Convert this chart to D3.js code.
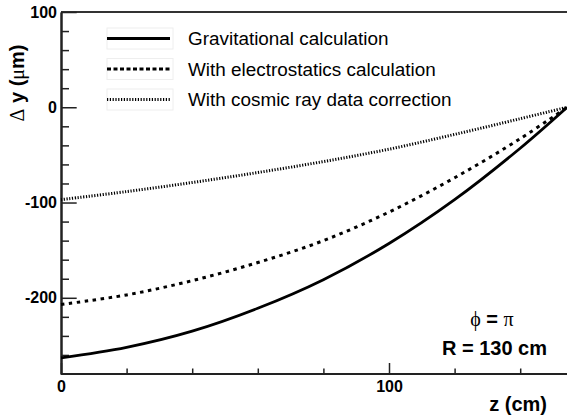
<!DOCTYPE html>
<html><head><meta charset="utf-8">
<script src="https://cdn.jsdelivr.net/npm/d3@7"></script>
<style>body{margin:0;background:#fff}svg{display:block}</style>
</head><body>
<svg id="c" width="567" height="417"></svg>
<script>
// ---- data ----
const zValues        = [0, 20, 40, 60, 80, 100, 120, 140, 154.3];
const gravitational  = [-263, -252, -235, -211, -181, -143, -97, -43, 0];
const electrostatics = [-207, -197, -182, -163, -140, -110, -74, -33, 0];
const cosmicRay      = [-97, -88.5, -79, -68.5, -57, -44, -28.5, -12, 0];
const xMajorTicks = [0, 100];
const xMinorTicks = [20, 40, 60, 80, 120, 140];
const yMajorTicks = [100, 0, -100, -200];
const yMinorTicks = [80, 60, 40, 20, -20, -40, -60, -80, -120, -140, -160, -180, -220, -240, -260];
const legendLabels = ["Gravitational calculation", "With electrostatics calculation", "With cosmic ray data correction"];

// ---- layout ----
const svg = d3.select("#c");
const L = 61, T = 12, B = 374;
const x = d3.scaleLinear().domain([0, 155]).range([L, L + 155 * 3.28]);
const y = d3.scaleLinear().domain([-280, 100]).range([B, T]);
const font = "'Liberation Sans', Arial, Helvetica, sans-serif";
const sym = "'Liberation Serif', 'Times New Roman', serif";
const axisColor = "#222";

// frame top
svg.append("line").attr("x1", L).attr("x2", 567).attr("y1", T).attr("y2", T)
  .attr("stroke", "#333").attr("stroke-width", 2);

function styleAxis(g) {
  g.select(".domain").attr("stroke", axisColor).attr("stroke-width", 2);
  g.selectAll(".tick line").attr("stroke", axisColor).attr("stroke-width", 1.5);
  g.selectAll("text").attr("font-family", font).attr("font-weight", "bold")
    .attr("font-size", 16).attr("fill", "#000");
}
// y axis
const yMinorG = svg.append("g").attr("transform", `translate(${L},0)`)
  .call(d3.axisLeft(y).tickValues(yMinorTicks).tickSize(-8).tickSizeOuter(0).tickFormat(""));
styleAxis(yMinorG);
const yMajorG = svg.append("g").attr("transform", `translate(${L},0)`)
  .call(d3.axisLeft(y).tickValues(yMajorTicks).tickSize(-15.7).tickSizeOuter(0).tickPadding(4).tickFormat(d3.format("d")));
styleAxis(yMajorG);
yMajorG.selectAll("text").text(d => d < 0 ? "-" + Math.abs(d) : d);

// x axis
const xMinorG = svg.append("g").attr("transform", `translate(0,${B})`)
  .call(d3.axisBottom(x).tickValues(xMinorTicks).tickSize(-5.5).tickSizeOuter(0).tickFormat(""));
styleAxis(xMinorG);
xMinorG.select(".domain").attr("d", `M${L},0H567`);
const xMajorG = svg.append("g").attr("transform", `translate(0,${B})`)
  .call(d3.axisBottom(x).tickValues(xMajorTicks).tickSize(-11).tickSizeOuter(0).tickPadding(6.5).tickFormat(d3.format("d")));
styleAxis(xMajorG);
xMajorG.select(".domain").attr("d", `M${L},0H567`);

// curves
const series = [
  {vals: gravitational, dash: null, w: 2.8},
  {vals: electrostatics, dash: "3.5,4.5", w: 3},
  {vals: cosmicRay, dash: "1.2,1.6", w: 3}
];
const line = d3.line().x(d => x(d[0])).y(d => y(d[1])).curve(d3.curveCatmullRom.alpha(0.5));
series.forEach(s => {
  svg.append("path").datum(zValues.map((z, i) => [z, s.vals[i]]))
    .attr("d", line).attr("fill", "none").attr("stroke", "#000")
    .attr("stroke-width", s.w).attr("stroke-dasharray", s.dash);
});

// legend
const legendY = [38.5, 69, 99.5];
const legendDash = [null, "4,2.5", "1.2,1.6"];
const legendW = [2.8, 3, 3];
legendLabels.forEach((lab, i) => {
  const ly = legendY[i];
  svg.append("rect").attr("x", 107).attr("y", ly - 10.5).attr("width", 66).attr("height", 21)
    .attr("fill", "none").attr("stroke", "#eee").attr("stroke-width", 1);
  svg.append("line").attr("x1", 107).attr("x2", 170).attr("y1", ly).attr("y2", ly)
    .attr("stroke", "#000").attr("stroke-width", legendW[i]).attr("stroke-dasharray", legendDash[i]);
  svg.append("text").attr("x", 188).attr("y", ly + 6.8).attr("font-family", font)
    .attr("font-size", 18.9).attr("fill", "#000").text(lab);
});

// annotations
const phi = svg.append("text").attr("x", 492).attr("y", 326).attr("text-anchor", "middle")
  .attr("font-family", font).attr("font-weight", "bold").attr("font-size", 20);
phi.append("tspan").attr("font-family", sym).attr("font-weight", "normal").text("ϕ");
phi.append("tspan").text(" = ");
phi.append("tspan").attr("font-family", sym).attr("font-weight", "normal").text("π");

svg.append("text").attr("x", 547).attr("y", 355).attr("text-anchor", "end")
  .attr("font-family", font).attr("font-weight", "bold").attr("font-size", 20).text("R = 130 cm");

svg.append("text").attr("x", 547).attr("y", 411).attr("text-anchor", "end")
  .attr("font-family", font).attr("font-weight", "bold").attr("font-size", 20).text("z (cm)");

const yl = svg.append("text").attr("transform", "translate(24,83) rotate(-90)")
  .attr("text-anchor", "middle").attr("font-family", font).attr("font-weight", "bold").attr("font-size", 20);
yl.append("tspan").attr("font-family", sym).attr("font-weight", "normal").text("Δ");
yl.append("tspan").text(" y (");
yl.append("tspan").attr("font-family", sym).attr("font-weight", "normal").text("μ");
yl.append("tspan").text("m)");
</script>
</body></html>
